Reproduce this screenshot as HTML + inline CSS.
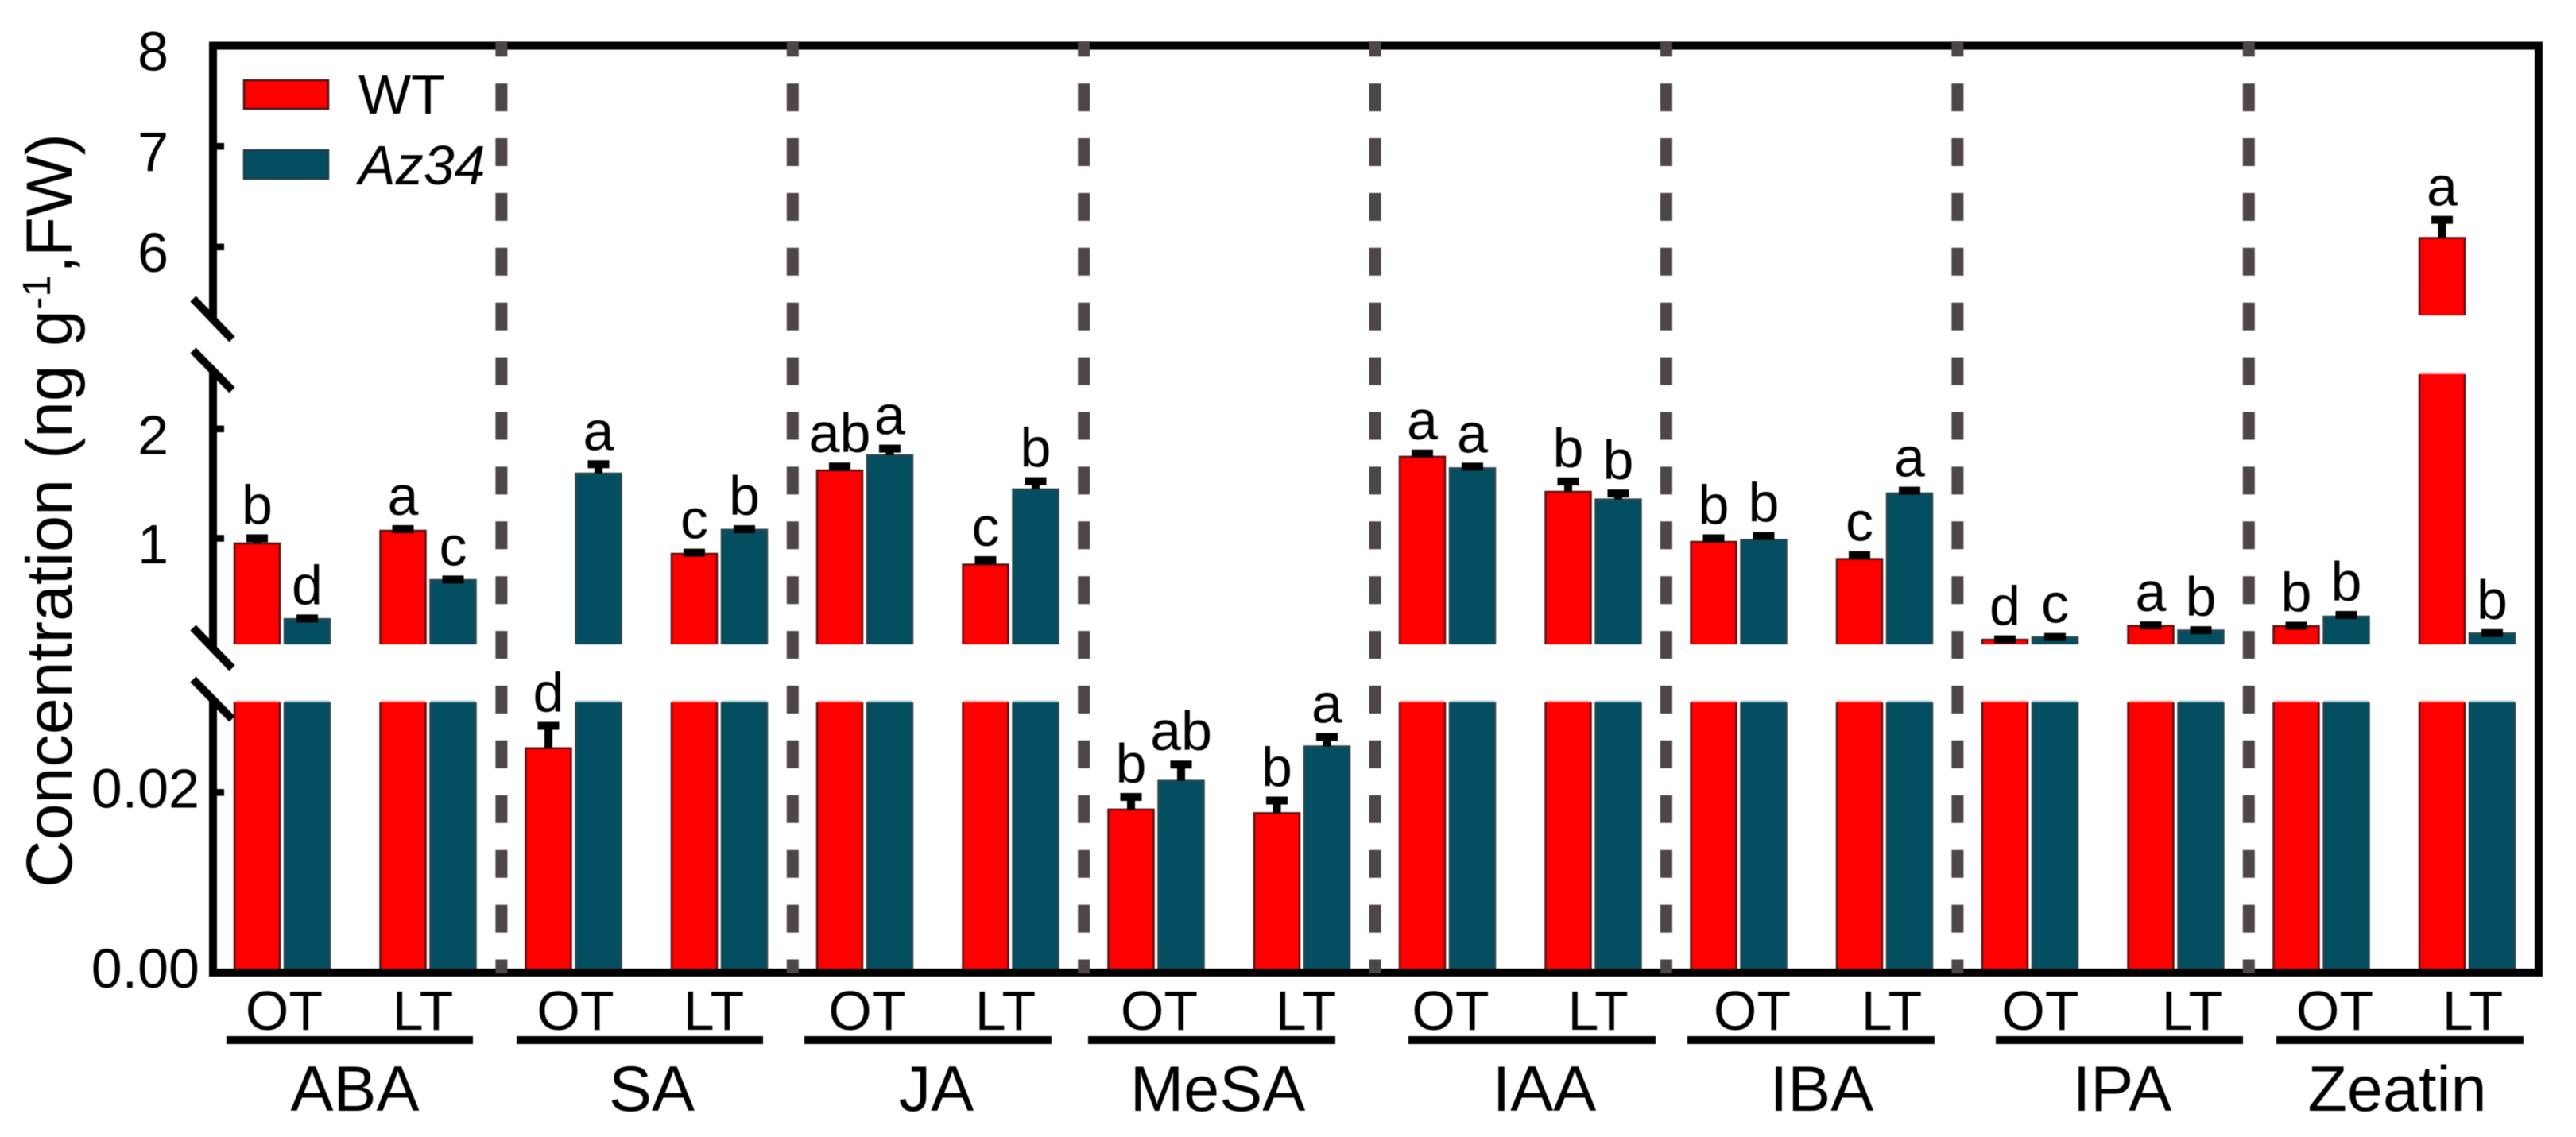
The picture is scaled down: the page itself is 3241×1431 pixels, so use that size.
<!DOCTYPE html>
<html lang="en">
<head>
<meta charset="utf-8">
<title>Hormone concentration chart</title>
<style>
  html, body { margin: 0; padding: 0; background: #fff; }
  svg { display: block; }
  text { font-family: "Liberation Sans", Arial, sans-serif; fill: #000; }
</style>
</head>
<body>
<svg id="chart" xmlns="http://www.w3.org/2000/svg" width="3241" height="1431" viewBox="0 0 3241 1431">
  <rect x="0" y="0" width="3241" height="1431" fill="#ffffff"/>
  <g id="root" style="filter: blur(0.6px)">
    <g id="bars"></g>
    <g id="errors"></g>

    <g stroke="#000" stroke-width="10" fill="none">
      <line x1="263" y1="57.5" x2="3199" y2="57.5"/>
      <line x1="3194" y1="52.5" x2="3194" y2="1229"/>
      <line x1="263" y1="1224" x2="3199" y2="1224"/>
      <line x1="268" y1="52.5" x2="268" y2="401"/>
      <line x1="268" y1="466" x2="268" y2="816"/>
      <line x1="268" y1="880" x2="268" y2="1229"/>
      <line x1="243" y1="376" x2="292" y2="427"/>
      <line x1="243" y1="441" x2="292" y2="491"/>
      <line x1="243" y1="790" x2="292" y2="841"/>
      <line x1="243" y1="855" x2="292" y2="905"/>
    </g>

    <g id="ticks"></g>
    <g id="separators"></g>
    <g id="letters"></g>

    <g>
      <rect x="307" y="101" width="106" height="36" fill="#ff0000" stroke="#4a1414" stroke-width="2.5"/>
      <text x="451" y="143" font-size="70">WT</text>
      <rect x="307" y="189" width="106" height="36" fill="#034e61" stroke="#1f3d47" stroke-width="2.5"/>
      <text x="451" y="232" font-size="70" font-style="italic">Az34</text>
    </g>

    <g font-size="82">
      <text transform="translate(90 1117) rotate(-90)" textLength="514" lengthAdjust="spacingAndGlyphs">Concentration</text>
      <text transform="translate(90 578) rotate(-90)">(ng</text>
      <text transform="translate(90 436) rotate(-90)">g</text>
      <text transform="translate(63 390) rotate(-90)" font-size="49">-1</text>
      <text transform="translate(90 344) rotate(-90)">,</text>
      <text transform="translate(90 323) rotate(-90)">FW)</text>
    </g>

    <g font-size="70" text-anchor="middle">
      <text x="357.5" y="1296">OT</text>
      <text x="532" y="1296">LT</text>
      <text x="724" y="1296">OT</text>
      <text x="898" y="1296">LT</text>
      <text x="1091" y="1296">OT</text>
      <text x="1265" y="1296">LT</text>
      <text x="1458.5" y="1296">OT</text>
      <text x="1643" y="1296">LT</text>
      <text x="1825" y="1296">OT</text>
      <text x="2010.7" y="1296">LT</text>
      <text x="2204.5" y="1296">OT</text>
      <text x="2380" y="1296">LT</text>
      <text x="2567" y="1296">OT</text>
      <text x="2758" y="1296">LT</text>
      <text x="2937.5" y="1296">OT</text>
      <text x="3111" y="1296">LT</text>
    </g>

    <g stroke="#000" stroke-width="10">
      <line x1="285" y1="1309" x2="595" y2="1309"/>
      <line x1="650" y1="1309" x2="960" y2="1309"/>
      <line x1="1012" y1="1309" x2="1323" y2="1309"/>
      <line x1="1369" y1="1309" x2="1680" y2="1309"/>
      <line x1="1772" y1="1309" x2="2083" y2="1309"/>
      <line x1="2123" y1="1309" x2="2434" y2="1309"/>
      <line x1="2511" y1="1309" x2="2822" y2="1309"/>
      <line x1="2864" y1="1309" x2="3175" y2="1309"/>
    </g>

    <g font-size="81" text-anchor="middle">
      <text x="446.5" y="1398">ABA</text>
      <text x="820" y="1398">SA</text>
      <text x="1178" y="1398">JA</text>
      <text x="1532" y="1398">MeSA</text>
      <text x="1943" y="1398">IAA</text>
      <text x="2292" y="1398">IBA</text>
      <text x="2670" y="1398">IPA</text>
      <text x="3016" y="1398">Zeatin</text>
    </g>
  </g>
</svg>
<script>
// ---- chart data (each inner order: OT, LT) ----
const categories = ['ABA', 'SA', 'JA', 'MeSA', 'IAA', 'IBA', 'IPA', 'Zeatin'];
const conditions = ['OT', 'LT'];
const wtValues = [[0.953, 1.069], [0.0249, 0.858], [1.62, 0.76], [0.0181, 0.0177], [1.745, 1.425], [0.967, 0.81], [0.073, 0.2], [0.197, 6.09]];
const azValues = [[0.262, 0.618], [1.592, 1.078], [1.76, 1.447], [0.0213, 0.0251], [1.64, 1.355], [0.985, 1.41], [0.095, 0.157], [0.284, 0.13]];
const wtErrors = [[0.047, 0.015], [0.0025, 0.01], [0.036, 0.04], [0.0014, 0.0014], [0.03, 0.095], [0.033, 0.036], [0.003, 0.004], [0.004, 0.18]];
const azErrors = [[0.005, 0.005], [0.085, 0.005], [0.06, 0.075], [0.0018, 0.00106], [0.015, 0.055], [0.036, 0.025], [0.003, 0.003], [0.015, 0.003]];
const wtLetters = [['b', 'a'], ['d', 'c'], ['ab', 'c'], ['b', 'b'], ['a', 'b'], ['b', 'c'], ['d', 'a'], ['b', 'a']];
const azLetters = [['d', 'c'], ['a', 'b'], ['a', 'b'], ['ab', 'a'], ['a', 'b'], ['b', 'a'], ['c', 'b'], ['b', 'b']];
const upperTickValues = [8, 7, 6];
const middleTickValues = [2, 1];
const lowerTickValues = [0.02, 0];
const lowerTickLabels = ['0.02', '0.00'];

// ---- axis functions ----
const LOW_MAX = 0.03, MID_MAX = 2.5, HIGH_MIN = 5.32, HIGH_MAX = 8;
const yLow = v => 1224 - (v / LOW_MAX) * 340;
const yMid = v => 811 - ((v - LOW_MAX) / (MID_MAX - LOW_MAX)) * 340;
const yHigh = v => 397 - ((v - HIGH_MIN) / (HIGH_MAX - HIGH_MIN)) * 339.5;
const yAny = v => v >= HIGH_MIN ? yHigh(v) : (v >= LOW_MAX ? yMid(v) : yLow(v));
const BAR_W = 57;
const xBar = (cat, cond, ser) => 295 + cat * 366.5 + cond * 183.5 + ser * 63;

const NS = 'http://www.w3.org/2000/svg';
function make(parent, tag, attrs, text) {
  const el = document.createElementNS(NS, tag);
  for (const k in attrs) el.setAttribute(k, attrs[k]);
  if (text !== undefined) el.textContent = text;
  parent.appendChild(el);
  return el;
}
const barsG = document.getElementById('bars');
const errG = document.getElementById('errors');
const lettersG = document.getElementById('letters');
const ticksG = document.getElementById('ticks');
const sepG = document.getElementById('separators');

function drawSegment(x, top, bottom, fill, edge, closedTop, name) {
  const r = make(barsG, 'rect', { x: x, y: top, width: BAR_W, height: Math.max(0, bottom - top), fill: fill });
  
  
  const d = closedTop
    ? `M${x} ${bottom}V${top}H${x + BAR_W}V${bottom}`
    : `M${x} ${bottom}V${top}M${x + BAR_W} ${top}V${bottom}`;
  const p = make(barsG, 'path', { d: d, fill: 'none', stroke: edge, 'stroke-width': 2.5 });
  
  
  if (!closedTop) {
    const f = make(barsG, 'rect', { x: x, y: top - 2.5, width: BAR_W, height: 2.5, fill: fill, opacity: 0.3 });
    
    
  }
}

function drawBar(cat, cond, ser, value, err, letter, fill, edge) {
  const x = xBar(cat, cond, ser);
  const id = `${categories[cat].toLowerCase()}-${conditions[cond].toLowerCase()}-${ser === 0 ? 'wt' : 'az34'}`;
  if (value < LOW_MAX) {
    drawSegment(x, yLow(value), yLow(0), fill, edge, true, `bar-${id}`);
  } else {
    drawSegment(x, yLow(LOW_MAX), yLow(0), fill, edge, false, `bar-${id}-lower`);
    if (value < MID_MAX) {
      drawSegment(x, yMid(value), yMid(LOW_MAX), fill, edge, true, `bar-${id}-middle`);
    } else {
      drawSegment(x, yMid(MID_MAX), yMid(LOW_MAX), fill, edge, false, `bar-${id}-middle`);
    }
    if (value >= HIGH_MIN) {
      drawSegment(x, yHigh(value), yHigh(HIGH_MIN), fill, edge, true, `bar-${id}-upper`);
    }
  }
  const cx = x + BAR_W / 2;
  const capY = yAny(value + err);
  const stem = make(errG, 'line', { x1: cx, x2: cx, y1: yAny(value), y2: capY, stroke: '#000', 'stroke-width': 10 });
  
  
  const cap = make(errG, 'rect', { x: cx - 13.5, y: capY - 5, width: 27, height: 10, fill: '#000' });
  
  
  const t = make(lettersG, 'text', { x: cx, y: capY - 18, 'font-size': 70, 'text-anchor': 'middle' }, letter);
  
  
}

categories.forEach((c, i) => {
  conditions.forEach((k, j) => {
    drawBar(i, j, 0, wtValues[i][j], wtErrors[i][j], wtLetters[i][j], '#ff0000', '#5c1212');
    drawBar(i, j, 1, azValues[i][j], azErrors[i][j], azLetters[i][j], '#034e61', '#2b4650');
  });
});

function drawTick(y, label, labelRight, labelOffset, name) {
  const l = make(ticksG, 'line', { x1: 268, x2: 282, y1: y, y2: y, stroke: '#000', 'stroke-width': 8.5 });
  
  
  const t = make(ticksG, 'text', { x: labelRight, y: y + labelOffset, 'font-size': 70, 'text-anchor': 'end' }, label);
  
  
}
upperTickValues.forEach(v => drawTick(yHigh(v), String(v), 212, 31, String(v)));
middleTickValues.forEach(v => drawTick(yMid(v), String(v), 212, 31.5, String(v)));
lowerTickValues.forEach((v, i) => drawTick(yLow(v), lowerTickLabels[i], 251, 19, lowerTickLabels[i]));

// dashed separators sit between neighbouring hormone groups
for (let i = 1; i < categories.length; i++) {
  const x = 264.5 + i * 366.4;
  const s = make(sepG, 'line', {
    x1: x, x2: x, y1: 1225, y2: 52, stroke: '#4d4546', 'stroke-width': 15,
    'stroke-dasharray': '35 33.9', 'stroke-dashoffset': 17.5
  });
  
  
}
</script>
</body>
</html>
